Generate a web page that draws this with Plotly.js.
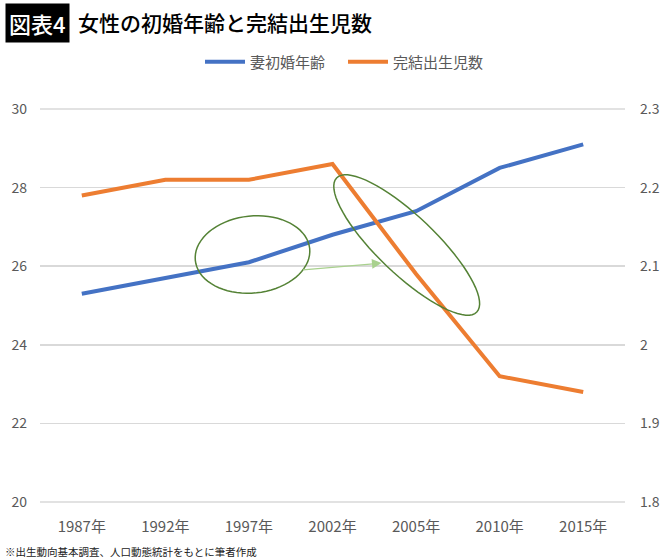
<!DOCTYPE html>
<html>
<head>
<meta charset="utf-8">
<script src="https://cdn.plot.ly/plotly-3.0.1.min.js"></script>
<style>
  html, body { margin: 0; padding: 0; background: #fff; }
  #chart { width: 670px; height: 559px; }
</style>
</head>
<body>
<div id="chart"></div>
<script>
const years = ['1987年', '1992年', '1997年', '2002年', '2005年', '2010年', '2015年'];
const marriageAge = [25.3, 25.7, 26.1, 26.8, 27.4, 28.5, 29.1];
const completedFertility = [2.19, 2.21, 2.21, 2.23, 2.09, 1.96, 1.94];
const leftTicks = [20, 22, 24, 26, 28, 30];
const rightTicks = [1.8, 1.9, 2.0, 2.1, 2.2, 2.3];

const FONT = '"Noto Sans CJK JP", "Noto Sans", sans-serif';
const GRAY = '#595959';

// plot area in pixels (used only for the hand-drawn ellipses)
const M = { l: 40, r: 45, t: 109, b: 57 };
const W = 670 - M.l - M.r;
const H = 559 - M.t - M.b;

function ellipsePath(cx, cy, rx, ry, deg) {
  const a = deg * Math.PI / 180;
  const pts = [];
  for (let i = 0; i <= 72; i++) {
    const t = i / 72 * 2 * Math.PI;
    const ex = rx * Math.cos(t), ey = ry * Math.sin(t);
    const px = cx + ex * Math.cos(a) - ey * Math.sin(a);
    const py = cy + ex * Math.sin(a) + ey * Math.cos(a);
    pts.push(((px - M.l) / W).toFixed(4) + ',' + ((M.t + H - py) / H).toFixed(4));
  }
  return 'M' + pts.join(' L') + ' Z';
}

const traces = [
  {
    x: years, y: marriageAge, name: '妻初婚年齢',
    type: 'scatter', mode: 'lines',
    line: { color: '#4472C4', width: 4 },
    yaxis: 'y'
  },
  {
    x: years, y: completedFertility, name: '完結出生児数',
    type: 'scatter', mode: 'lines',
    line: { color: '#ED7D31', width: 4 },
    yaxis: 'y2'
  }
];

// top and bottom grid lines (Plotly skips grid lines lying on the plot border)
const edgeGrid = [0, 1].map(v => ({
  type: 'line', xref: 'paper', yref: 'paper', x0: 0, x1: 1, y0: v, y1: v, layer: 'below',
  line: { color: '#d9d9d9', width: 1.5 }
}));

const layout = {
  width: 670, height: 559,
  margin: M,
  paper_bgcolor: '#fff', plot_bgcolor: 'rgba(0,0,0,0)',
  font: { family: FONT, color: GRAY, size: 14 },
  showlegend: true,
  legend: {
    orientation: 'h', xref: 'container', yref: 'container',
    x: 200 / 670, xanchor: 'left', y: 1 - 62 / 559, yanchor: 'middle',
    font: { size: 15, color: GRAY }, itemwidth: 40, tracegroupgap: 0,
    entrywidth: 88
  },
  xaxis: {
    type: 'category', range: [-0.5, 6.5], showgrid: false, zeroline: false, showline: false,
    ticks: '', tickfont: { size: 15, color: GRAY }, ticklabelstandoff: 14,
    fixedrange: true
  },
  yaxis: {
    range: [20, 30], tickvals: leftTicks, showgrid: true,
    gridcolor: '#d9d9d9', gridwidth: 1.5,
    zeroline: false, showline: false, ticks: '', ticklabelstandoff: 12,
    tickfont: { size: 14, color: GRAY }
  },
  yaxis2: {
    range: [1.8, 2.3], tickvals: rightTicks, overlaying: 'y', side: 'right',
    showgrid: false, zeroline: false, showline: false, ticks: '', ticklabelstandoff: 14,
    tickfont: { size: 14, color: GRAY }
  },
  shapes: [
    ...edgeGrid,
    { type: 'path', xref: 'paper', yref: 'paper', path: ellipsePath(252.5, 254.5, 57.5, 38.5, -6),
      line: { color: '#548235', width: 1.5 }, fillcolor: 'rgba(0,0,0,0)' },
    { type: 'path', xref: 'paper', yref: 'paper', path: ellipsePath(406.7, 245, 97, 29, 43.7),
      line: { color: '#548235', width: 1.5 }, fillcolor: 'rgba(0,0,0,0)' }
  ],
  annotations: [
    { xref: 'paper', yref: 'paper', x: (5 - M.l) / W, y: (M.t + H - 3) / H,
      xanchor: 'left', yanchor: 'top', showarrow: false,
      text: '図表4', bgcolor: '#000', borderpad: 3,
      font: { family: FONT, size: 22, color: '#fff', weight: 500 } },
    { xref: 'paper', yref: 'paper', x: (74 - M.l) / W, y: (M.t + H - 3) / H,
      xanchor: 'left', yanchor: 'top', showarrow: false,
      text: '女性の初婚年齢と完結出生児数', borderpad: 3,
      font: { family: FONT, size: 21, color: '#000', weight: 500 } },
    { xref: 'paper', yref: 'paper', x: (3 - M.l) / W, y: (M.t + H - 551) / H,
      xanchor: 'left', yanchor: 'middle', showarrow: false,
      text: '※出生動向基本調査、人口動態統計をもとに筆者作成',
      font: { family: FONT, size: 10.5, color: '#222' } },
    { xref: 'x', yref: 'y', x: 3.587, y: 26.08, ax: -80, ay: 7, text: '',
      showarrow: true, arrowhead: 2, arrowsize: 1.6, arrowwidth: 1.2, arrowcolor: '#a9d18e' }
  ]
};

Plotly.newPlot('chart', traces, layout, { displayModeBar: false, staticPlot: true });
</script>
</body>
</html>
